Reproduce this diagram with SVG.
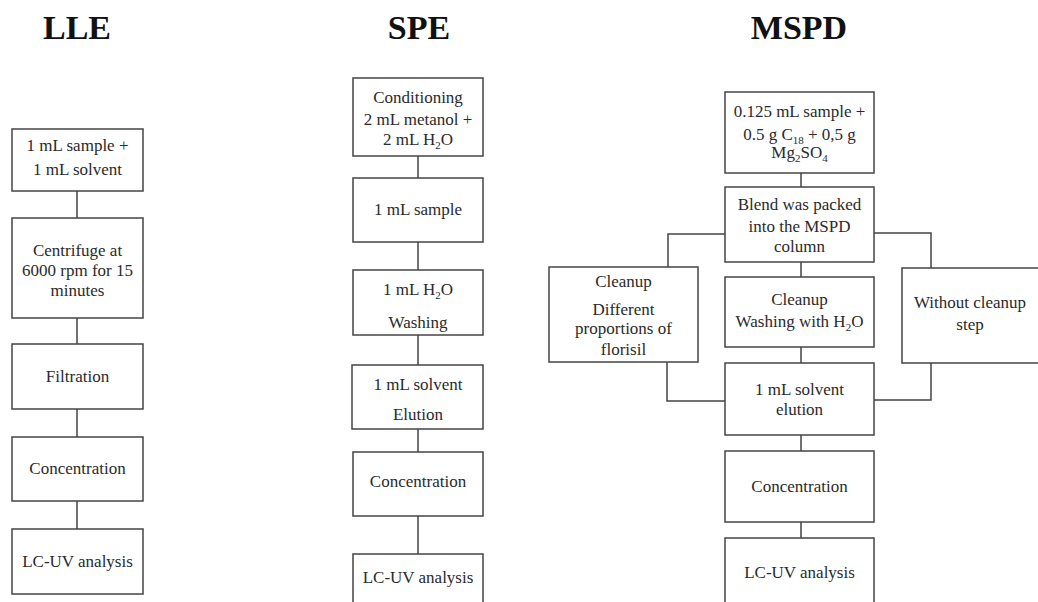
<svg xmlns="http://www.w3.org/2000/svg" width="1038" height="602" viewBox="0 0 1038 602">
<style>
.b{fill:#fff;stroke:#444;stroke-width:1.5}
.t{font-family:"Liberation Serif","Times New Roman",serif;font-size:17px;fill:#2a2a2a;text-anchor:middle}
.h{font-family:"Liberation Serif","Times New Roman",serif;font-size:34px;font-weight:bold;fill:#111;text-anchor:middle}
.s{font-size:11px}
.c{fill:none;stroke:#444;stroke-width:1.5}
</style>
<rect width="1038" height="602" fill="#fff"/>
<g id="titles">
<text class="h" x="77" y="39">LLE</text>
<text class="h" x="419" y="39">SPE</text>
<text class="h" x="799" y="39">MSPD</text>
</g>
<g id="connectors">
<path class="c" d="M77 191V218M77 318V344M77 409V437M77 501V529"/>
<path class="c" d="M418 156V178M418 242V270M418 335V365M418 429V452M418 516V554"/>
<path class="c" d="M801 173V187M801 262V277M801 347V363M801 435V451M801 522V538"/>
<path class="c" d="M725 234H668V267M874 233H931V268M667 362V401H725M931 363V400H874"/>
</g>
<g id="lle1"><rect class="b" x="12" y="129" width="131" height="62"/><text class="t" x="77.5" y="151">1 mL sample +</text><text class="t" x="77.5" y="175">1 mL solvent</text></g>
<g id="lle2"><rect class="b" x="12" y="218" width="131" height="100"/><text class="t" x="77.5" y="256">Centrifuge at</text><text class="t" x="77.5" y="276">6000 rpm for 15</text><text class="t" x="77.5" y="296">minutes</text></g>
<g id="lle3"><rect class="b" x="12" y="344" width="131" height="65"/><text class="t" x="77.5" y="382">Filtration</text></g>
<g id="lle4"><rect class="b" x="12" y="437" width="131" height="64"/><text class="t" x="77.5" y="474">Concentration</text></g>
<g id="lle5"><rect class="b" x="12" y="529" width="131" height="65"/><text class="t" x="77.5" y="567">LC-UV analysis</text></g>

<g id="spe1"><rect class="b" x="353" y="78" width="130" height="78"/><text class="t" x="418" y="103">Conditioning</text><text class="t" x="418" y="125">2 mL metanol +</text><text class="t" x="418" y="145">2 mL H<tspan class="s" dy="4">2</tspan><tspan dy="-4">O</tspan></text></g>
<g id="spe2"><rect class="b" x="353" y="178" width="130" height="64"/><text class="t" x="418" y="215">1 mL sample</text></g>
<g id="spe3"><rect class="b" x="353" y="270" width="130" height="65"/><text class="t" x="418" y="295">1 mL H<tspan class="s" dy="4">2</tspan><tspan dy="-4">O</tspan></text><text class="t" x="418" y="328">Washing</text></g>
<g id="spe4"><rect class="b" x="352" y="365" width="131" height="64"/><text class="t" x="418" y="390">1 mL solvent</text><text class="t" x="418" y="420">Elution</text></g>
<g id="spe5"><rect class="b" x="353" y="452" width="130" height="64"/><text class="t" x="418" y="487">Concentration</text></g>
<g id="spe6"><rect class="b" x="353" y="554" width="130" height="60"/><text class="t" x="418" y="583">LC-UV analysis</text></g>

<g id="mspd1"><rect class="b" x="725" y="92" width="149" height="81"/><text class="t" x="799.5" y="117">0.125 mL sample +</text><text class="t" x="799.5" y="140">0.5 g C<tspan class="s" dy="4">18</tspan><tspan dy="-4"> + 0,5 g</tspan></text><text class="t" x="799.5" y="158">Mg<tspan class="s" dy="4">2</tspan><tspan dy="-4">SO</tspan><tspan class="s" dy="4">4</tspan></text></g>
<g id="mspd2"><rect class="b" x="725" y="187" width="149" height="75"/><text class="t" x="799.5" y="210">Blend was packed</text><text class="t" x="799.5" y="232">into the MSPD</text><text class="t" x="799.5" y="252">column</text></g>
<g id="mspd3a"><rect class="b" x="549" y="267" width="149" height="95"/><text class="t" x="623.5" y="287">Cleanup</text><text class="t" x="623.5" y="315">Different</text><text class="t" x="623.5" y="334">proportions of</text><text class="t" x="623.5" y="355">florisil</text></g>
<g id="mspd3b"><rect class="b" x="725" y="277" width="149" height="70"/><text class="t" x="799.5" y="305">Cleanup</text><text class="t" x="799.5" y="327">Washing with H<tspan class="s" dy="4">2</tspan><tspan dy="-4">O</tspan></text></g>
<g id="mspd3c"><rect class="b" x="902" y="268" width="140" height="95"/><text class="t" x="970" y="308">Without cleanup</text><text class="t" x="970" y="330">step</text></g>
<g id="mspd4"><rect class="b" x="725" y="363" width="149" height="72"/><text class="t" x="799.5" y="395">1 mL solvent</text><text class="t" x="799.5" y="415">elution</text></g>
<g id="mspd5"><rect class="b" x="725" y="451" width="149" height="71"/><text class="t" x="799.5" y="492">Concentration</text></g>
<g id="mspd6"><rect class="b" x="725" y="538" width="149" height="76"/><text class="t" x="799.5" y="578">LC-UV analysis</text></g>
</svg>
